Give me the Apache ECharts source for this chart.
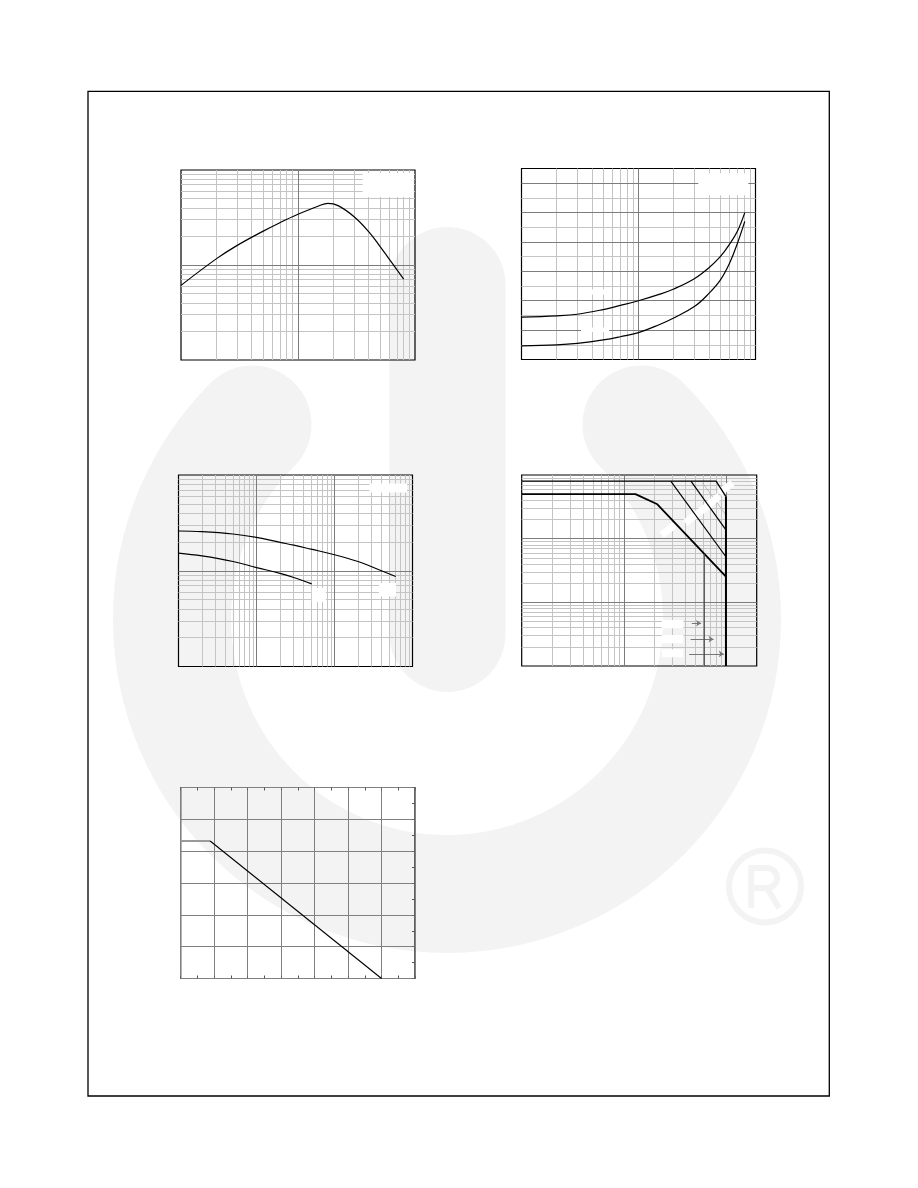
<!DOCTYPE html>
<html><head><meta charset="utf-8">
<script src="https://cdn.jsdelivr.net/npm/echarts@6/dist/echarts.min.js"></script>
<style>html,body{margin:0;padding:0;background:#fff}#c{width:918px;height:1188px}</style>
</head><body><div id="c"></div>
<script>
// ---------- Chart 1 (top left): gain vs current, log-log ----------
const c1Current = [1, 2, 3, 5, 7, 10, 15, 18, 22, 30, 40, 50, 60, 80];
const c1Gain = [61, 116, 160, 226, 279, 342, 418, 445, 422, 324, 226, 158, 116, 71];

// ---------- Chart 2 (top right): voltage vs current, log x / linear y ----------
const c2Current = [1, 2, 3, 5, 7, 10, 15, 20, 30, 40, 50, 60, 70, 81];
const c2Upper = [0.288, 0.297, 0.308, 0.34, 0.368, 0.40, 0.443, 0.48, 0.55, 0.625, 0.70, 0.785, 0.873, 1.0];
const c2Lower = [0.093, 0.1, 0.11, 0.133, 0.155, 0.183, 0.237, 0.283, 0.36, 0.45, 0.54, 0.655, 0.79, 0.94];
const c2MajorY = [0.2, 0.4, 0.6, 0.8, 1.0, 1.2];
const c2MinorY = [0.1, 0.3, 0.5, 0.7, 0.9, 1.1];

// ---------- Chart 3 (middle left): capacitance vs voltage, log-log ----------
const c3UpperX = [0.1, 0.2, 0.5, 1, 2, 3, 5, 10, 20, 30, 61];
const c3UpperY = [26, 25.6, 24.2, 22.3, 19.8, 18.5, 16.8, 14.7, 12.5, 11, 8.7];
const c3LowerX = [0.1, 0.2, 0.5, 1, 2, 3, 5.1];
const c3LowerY = [15.3, 14.3, 12.5, 10.8, 9.4, 8.5, 7.3];

// ---------- Chart 4 (middle right): safe operating area, log-log ----------
const c4LimitX = [1, 80, 100];      const c4LimitY = [8, 8, 4.57];
const c4PulseAX = [28.8, 100];      const c4PulseAY = [8, 0.52];
const c4PulseBX = [45.4, 100];      const c4PulseBY = [8, 1.37];
const c4PulseCX = [59, 100];        const c4PulseCY = [7.5, 2.36];
const c4DcX = [1, 13, 21.3, 100];   const c4DcY = [5, 5, 3.47, 0.253];
const c4SbX = [61.3, 61.3];         const c4SbY = [0.58, 0.01];
const c4VceoX = [100, 100];         const c4VceoY = [4.57, 0.01];
const c4ArrowY = [0.047, 0.0264, 0.0155];
const c4ArrowFrom = [46.3, 45, 43.6];
const c4ArrowTo = [57.1, 75.6, 95.3];

// ---------- Chart 5 (bottom): derating, linear ----------
const c5FlatT = [0, 22];     const c5FlatP = [43.2, 43.2];
const c5SlopeT = [22, 150];  const c5SlopeP = [43.2, 0];

const MINOR = '#c4c4c4', MAJOR = '#7c7c7c';
const pairs = (xs, ys) => xs.map((x, i) => [x, ys[i]]);

function logLines(lo, hi) {
  const minor = [], major = [];
  for (let p = lo; p < hi * 0.999; p = +(p * 10).toPrecision(6)) {
    for (let m = 2; m <= 9; m++) { const v = +(m * p).toPrecision(6); if (v < hi) minor.push(v); }
    const d = +(p * 10).toPrecision(6); if (d < hi) major.push(d);
  }
  return { minor, major };
}

function gridSeries(i, xl, yl) {
  const d = [];
  const add = (key, vals, color) => vals.forEach(v => d.push({ [key]: v, lineStyle: { color, width: 1, type: 'solid' } }));
  add('xAxis', xl.minor, MINOR); add('yAxis', yl.minor, MINOR);
  add('xAxis', xl.major, MAJOR); add('yAxis', yl.major, MAJOR);
  return { type: 'line', xAxisIndex: i, yAxisIndex: i, data: [], silent: true, z: 1,
    markLine: { z: 1, silent: true, animation: false, symbol: ['none', 'none'], label: { show: false },
      emphasis: { disabled: true }, data: d } };
}

function curve(i, data, opts = {}) {
  return Object.assign({ type: 'line', xAxisIndex: i, yAxisIndex: i, data, symbol: 'none', silent: true,
    smooth: 0.4, z: 4, lineStyle: { color: '#000', width: 1.2 } }, opts);
}

const hid = { axisLine: { show: false, onZero: false }, axisTick: { show: false }, axisLabel: { show: false }, splitLine: { show: false } };
const logAx = (g, min, max) => Object.assign({ type: 'log', logBase: 10, gridIndex: g, min, max }, hid);
const valAx = (g, min, max) => Object.assign({ type: 'value', gridIndex: g, min, max }, hid);
const tickStyle = { axisTick: { show: true, inside: true, length: 3, lineStyle: { color: '#666' } },
  minorTick: { show: true, splitNumber: 2, length: 3, lineStyle: { color: '#555' } } };

const gridStyle = { show: true, borderColor: '#000', borderWidth: 1.2, backgroundColor: 'transparent' };

const WM = '#f3f3f3';
const whiteRect = (x, y, w, h) => ({ type: 'rect', z: 3, silent: true, shape: { x, y, width: w, height: h }, style: { fill: '#fff' } });
const whiteTilt = (cx, cy) => ({ type: 'rect', z: 3, silent: true, x: cx, y: cy, rotation: 0.65,
  shape: { x: -8, y: -3.5, width: 16, height: 7 }, style: { fill: '#fff' } });

const option = {
  backgroundColor: '#fff',
  animation: false,
  grid: [
    Object.assign({ left: 181, top: 170, width: 234, height: 190 }, gridStyle),
    Object.assign({ left: 521.5, top: 168.5, width: 234, height: 191 }, gridStyle),
    Object.assign({ left: 178.5, top: 475, width: 234, height: 191.5 }, gridStyle),
    Object.assign({ left: 521.7, top: 475, width: 235, height: 191 }, gridStyle),
    Object.assign({ left: 180.7, top: 787.5, width: 234.3, height: 191 }, gridStyle)
  ],
  xAxis: [
    logAx(0, 1, 100), logAx(1, 1, 100), logAx(2, 0.1, 100), logAx(3, 1, 200),
    Object.assign(valAx(4, 0, 175), { interval: 25, splitLine: { show: true, lineStyle: { color: '#808080', width: 1 } } }, tickStyle),
    Object.assign(valAx(4, 0, 175), { interval: 25, position: 'top' }, tickStyle)
  ],
  yAxis: [
    logAx(0, 10, 1000), valAx(1, 0, 1.3), logAx(2, 1, 100), logAx(3, 0.01, 10),
    Object.assign(valAx(4, 0, 60), { interval: 10, splitLine: { show: true, lineStyle: { color: '#808080', width: 1 } } }),
    Object.assign(valAx(4, 0, 60), { interval: 10, position: 'right' }, tickStyle)
  ],
  series: [
    gridSeries(0, logLines(1, 100), logLines(10, 1000)),
    gridSeries(1, logLines(1, 100), { minor: c2MinorY, major: c2MajorY }),
    gridSeries(2, logLines(0.1, 100), logLines(1, 100)),
    gridSeries(3, logLines(1, 200), logLines(0.01, 10)),

    curve(0, pairs(c1Current, c1Gain)),
    curve(1, pairs(c2Current, c2Upper)),
    curve(1, pairs(c2Current, c2Lower)),
    curve(2, pairs(c3UpperX, c3UpperY)),
    curve(2, pairs(c3LowerX, c3LowerY)),

    curve(3, pairs(c4LimitX, c4LimitY), { smooth: false, lineStyle: { color: '#000', width: 1.3 } }),
    curve(3, pairs(c4PulseAX, c4PulseAY), { smooth: false, lineStyle: { color: '#000', width: 1.2 } }),
    curve(3, pairs(c4PulseBX, c4PulseBY), { smooth: false, lineStyle: { color: '#000', width: 1.2 } }),
    curve(3, pairs(c4PulseCX, c4PulseCY), { smooth: false, z: 2, lineStyle: { color: '#b0b0b0', width: 0.8 } }),
    curve(3, pairs(c4DcX, c4DcY), { smooth: false, lineStyle: { color: '#000', width: 1.8 } }),
    curve(3, pairs(c4SbX, c4SbY), { smooth: false, lineStyle: { color: '#444', width: 1.2 } }),
    curve(3, pairs(c4VceoX, c4VceoY), { smooth: false, lineStyle: { color: '#000', width: 2 } }),
    { type: 'line', xAxisIndex: 3, yAxisIndex: 3, data: [], silent: true, z: 4,
      markLine: { z: 4, silent: true, animation: false, symbol: ['none', 'arrow'], symbolSize: 5, label: { show: false },
        lineStyle: { color: '#777', width: 1, type: 'solid' },
        data: c4ArrowY.map((y, i) => [{ coord: [c4ArrowFrom[i], y] }, { coord: [c4ArrowTo[i], y] }]) } },

    curve(4, pairs(c5FlatT, c5FlatP), { smooth: false, lineStyle: { color: '#9a9a9a', width: 2.2 } }),
    curve(4, pairs(c5SlopeT, c5SlopeP), { smooth: false, lineStyle: { color: '#000', width: 1.1 } })
  ],
  graphic: [
    // watermark logo
    { type: 'arc', z: -10, silent: true, shape: { cx: 447, cy: 619, r: 275, startAngle: -Math.PI / 4, endAngle: Math.PI * 1.25, clockwise: true },
      style: { fill: 'none', stroke: WM, lineWidth: 118, lineCap: 'round' } },
    { type: 'line', z: -10, silent: true, shape: { x1: 447.5, y1: 285, x2: 447.5, y2: 634 },
      style: { stroke: WM, lineWidth: 116, lineCap: 'round' } },
    { type: 'circle', z: -10, silent: true, shape: { cx: 765, cy: 886.5, r: 36 }, style: { fill: 'none', stroke: WM, lineWidth: 6 } },
    { type: 'polyline', z: -10, silent: true, shape: { points: [[751.3, 908], [751.3, 868], [767, 868]] }, style: { fill: 'none', stroke: WM, lineWidth: 6 } },
    { type: 'arc', z: -10, silent: true, shape: { cx: 767, cy: 878, r: 10, startAngle: -Math.PI / 2, endAngle: Math.PI / 2, clockwise: true },
      style: { fill: 'none', stroke: WM, lineWidth: 6 } },
    { type: 'line', z: -10, silent: true, shape: { x1: 751.3, y1: 888, x2: 767, y2: 888 }, style: { stroke: WM, lineWidth: 6 } },
    { type: 'line', z: -10, silent: true, shape: { x1: 767, y1: 888, x2: 779, y2: 908 }, style: { stroke: WM, lineWidth: 6 } },

    // hidden label backgrounds
    whiteRect(362.7, 173, 51, 24),
    whiteRect(698.3, 173.3, 50, 22),
    whiteRect(590, 289.5, 15, 5),
    whiteRect(581, 327.5, 28, 4.5),
    whiteRect(311.8, 588, 14, 14),
    whiteRect(379, 583, 17, 13.5),
    whiteRect(369.4, 483.6, 37.6, 9),
    whiteRect(661.7, 620, 21.6, 8.3),
    whiteRect(661.7, 635, 21.6, 8.3),
    whiteRect(661.7, 649.3, 21.6, 8),
    whiteTilt(668, 530), whiteTilt(691.7, 518), whiteTilt(705, 508), whiteTilt(713, 501), whiteTilt(726, 488),

    // page frame
    { type: 'rect', z: 10, silent: true, shape: { x: 88, y: 91.3, width: 741.3, height: 1004.7 },
      style: { fill: 'none', stroke: '#000', lineWidth: 1.3 } }
  ]
};

const chart = echarts.init(document.getElementById('c'), null, { renderer: 'canvas', width: 918, height: 1188 });
chart.setOption(option);
</script>
</body></html>
